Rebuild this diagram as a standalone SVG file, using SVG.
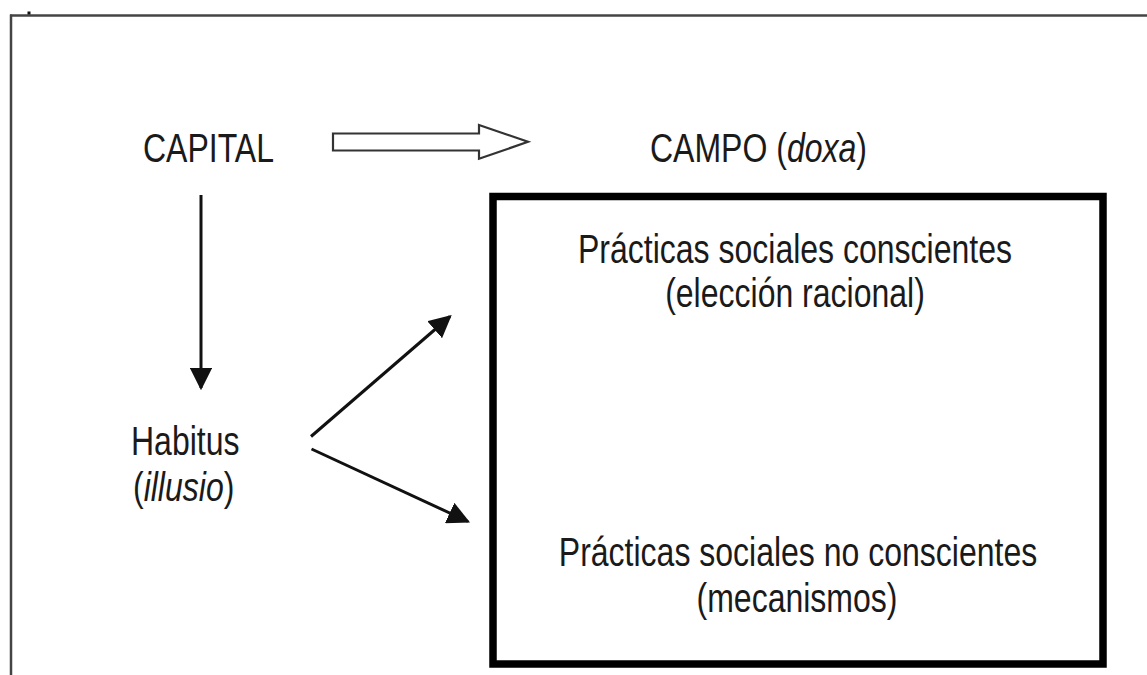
<svg xmlns="http://www.w3.org/2000/svg" width="1147" height="675" viewBox="0 0 1147 675">
<style>
.t{font-family:"Liberation Sans",Arial,sans-serif;font-size:40px;fill:#1a1a1a}
.m{text-anchor:middle}
.i{font-style:italic}
.frame{stroke:#444;stroke-width:2.5;fill:none}
.ln{stroke:#111;stroke-width:3;fill:none}
</style>
<defs>
<marker id="ah" viewBox="0 0 10 10" refX="9" refY="5" markerWidth="7.5" markerHeight="7.5" markerUnits="strokeWidth" orient="auto">
<path d="M0,0 L10,5 L0,10 Z" fill="#111"/>
</marker>
</defs>
<rect width="1147" height="675" fill="#fff"/>
<g id="frame">
<line class="frame" x1="10" y1="15.5" x2="1147" y2="15.5"/>
<line class="frame" x1="11" y1="14.5" x2="11" y2="675"/>
<rect x="27.5" y="11.5" width="3" height="3" fill="#111"/>
</g>
<g id="connectors">
<line class="ln" x1="201" y1="195" x2="201" y2="388" marker-end="url(#ah)"/>
<line class="ln" x1="311" y1="436.5" x2="450" y2="316.5" marker-end="url(#ah)"/>
<line class="ln" x1="311.5" y1="449" x2="468" y2="521.5" marker-end="url(#ah)"/>
<path d="M333,133.5 H479 V125 L528,141.8 L479,158.8 V150.5 H333 Z" fill="#fff" stroke="#333" stroke-width="2.2" stroke-linejoin="miter"/>
</g>
<g id="capital">
<text class="t" transform="translate(143,162) scale(0.8,1)">CAPITAL</text>
</g>
<g id="campo">
<text class="t" transform="translate(650,162) scale(0.8,1)">CAMPO (<tspan class="i">doxa</tspan>)</text>
</g>
<g id="habitus">
<text class="t" transform="translate(131,455) scale(0.8,1)">Habitus</text>
<text class="t" transform="translate(133,501) scale(0.8,1)">(<tspan class="i">illusio</tspan>)</text>
</g>
<g id="practicas">
<rect x="493" y="196.5" width="610" height="467.5" fill="none" stroke="#000" stroke-width="7.5"/>
<text class="t m" transform="translate(795,263) scale(0.8,1)">Prácticas sociales conscientes</text>
<text class="t m" transform="translate(795,307) scale(0.8,1)">(elección racional)</text>
<text class="t m" transform="translate(798,566) scale(0.8,1)">Prácticas sociales no conscientes</text>
<text class="t m" transform="translate(797,612) scale(0.8,1)">(mecanismos)</text>
</g>
</svg>
